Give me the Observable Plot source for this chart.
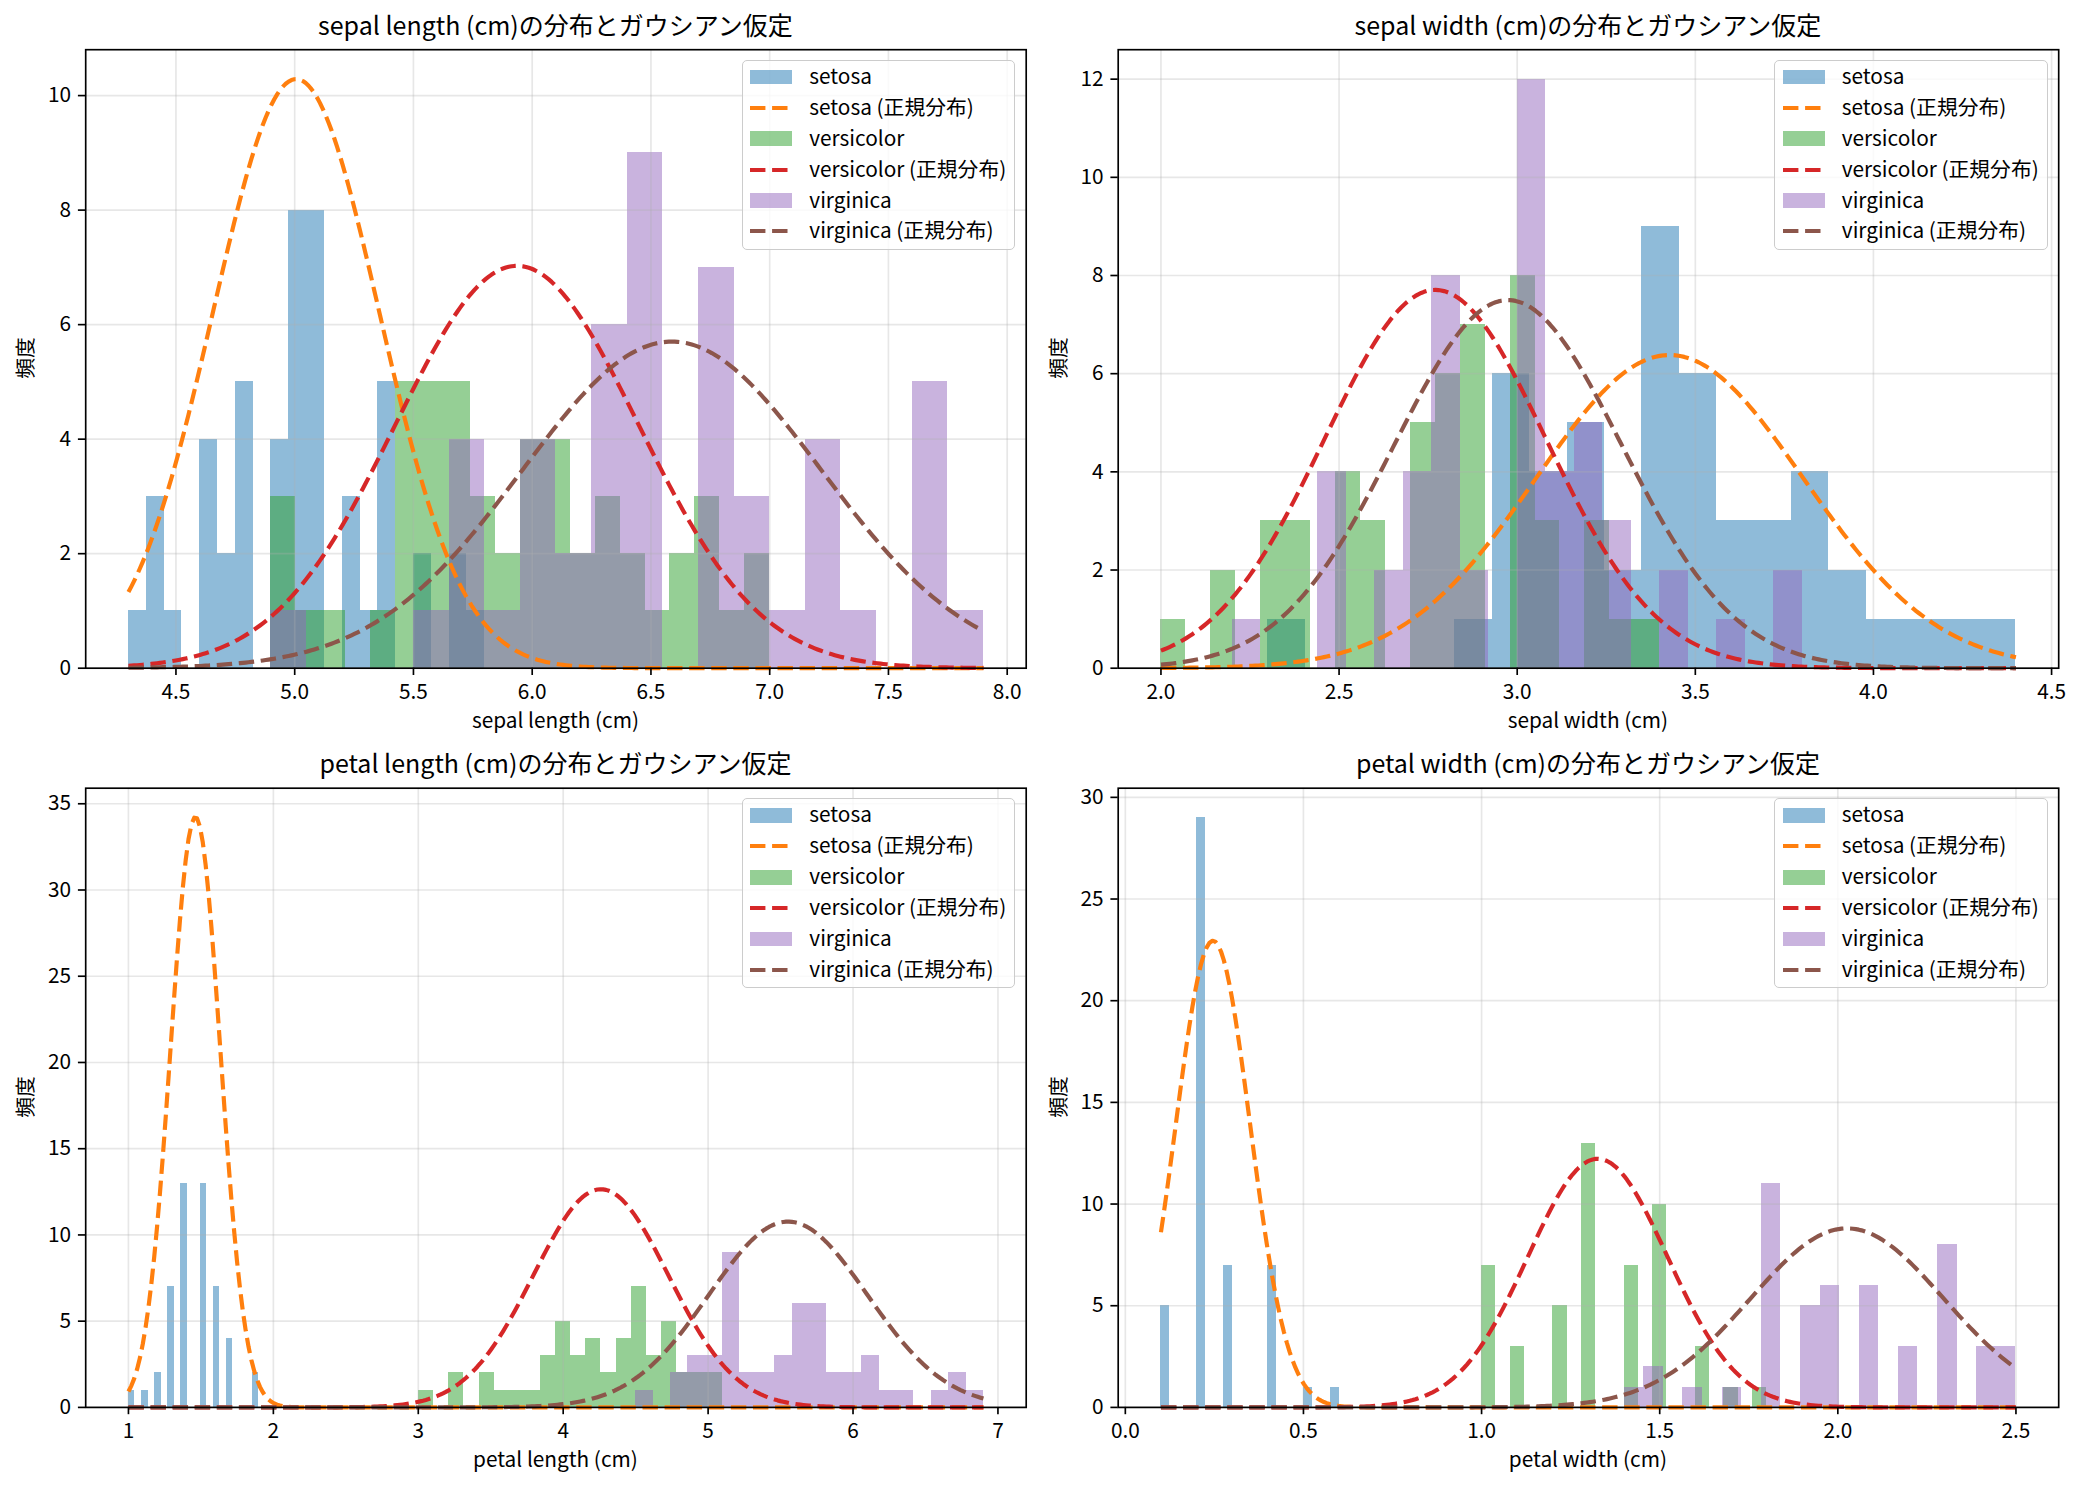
<!DOCTYPE html>
<html>
<head>
<meta charset="utf-8">
<script src="https://cdn.jsdelivr.net/npm/d3@7"></script>
<script src="https://cdn.jsdelivr.net/npm/@observablehq/plot@0.6"></script>
<style>
html, body { margin: 0; padding: 0; background: #fff; }
#fig { position: relative; width: 2083px; height: 1485px; background: #fff; overflow: hidden;
  font-family: "Noto Sans CJK JP", "Noto Sans", sans-serif; color: #000; }
.abs { position: absolute; white-space: nowrap; }
</style>
</head>
<body>
<div id="fig"></div>
<script>
// ---------------- data ----------------
const species = ["setosa", "versicolor", "virginica"];
const features = ["sepal length (cm)", "sepal width (cm)", "petal length (cm)", "petal width (cm)"];
const sampleSize = 50;
const binCount = 20;

// overall range of each feature (all species) – x extent of the normal curves
const featureMin = [4.3, 2.0, 1.0, 0.1];
const featureMax = [7.9, 4.4, 6.9, 2.5];

// histogram range of each species (20 bins each)
const setosaMin = [4.3, 2.3, 1.0, 0.1];
const setosaMax = [5.8, 4.4, 1.9, 0.6];
const versicolorMin = [4.9, 2.0, 3.0, 1.0];
const versicolorMax = [7.0, 3.4, 5.1, 1.8];
const virginicaMin = [4.9, 2.2, 4.5, 1.4];
const virginicaMax = [7.9, 3.8, 6.9, 2.5];

// bin counts
const setosaSepalLength     = [1,3,1,0,4,2,5,0,4,8,8,0,3,1,5,0,2,0,2,1];
const versicolorSepalLength = [3,1,1,0,1,5,5,5,3,2,4,4,2,3,2,1,2,3,1,2];
const virginicaSepalLength  = [1,0,0,0,1,4,1,4,2,6,9,0,7,3,1,4,1,0,5,1];

const setosaSepalWidth      = [1,0,0,0,0,1,6,4,5,2,9,6,3,3,4,2,1,1,1,1];
const versicolorSepalWidth  = [1,0,2,0,3,3,0,4,3,0,5,6,7,0,8,3,0,3,1,1];
const virginicaSepalWidth   = [1,0,0,4,0,2,4,8,2,0,12,4,5,3,0,2,0,1,0,2];

const setosaPetalLength     = [1,0,1,0,2,0,7,0,13,0,0,13,0,7,0,4,0,0,0,2];
const versicolorPetalLength = [1,0,2,0,2,1,1,1,3,5,3,4,2,4,7,3,5,2,2,2];
const virginicaPetalLength  = [1,0,2,3,3,9,2,2,3,6,6,2,2,3,1,1,0,1,2,1];

const setosaPetalWidth      = [5,0,0,0,29,0,0,7,0,0,0,0,7,0,0,0,1,0,0,1];
const versicolorPetalWidth  = [7,0,3,0,0,5,0,13,0,0,7,0,10,0,0,3,0,1,0,1];
const virginicaPetalWidth   = [1,2,0,1,0,1,0,11,0,5,6,0,6,0,3,0,8,0,3,3];

// fitted normal parameters (mean, std)
const setosaMean     = [5.006, 3.428, 1.462, 0.246];
const setosaStd      = [0.3490, 0.3752, 0.1719, 0.1043];
const versicolorMean = [5.936, 2.770, 4.260, 1.326];
const versicolorStd  = [0.5110, 0.3106, 0.4652, 0.1958];
const virginicaMean  = [6.588, 2.974, 5.552, 2.026];
const virginicaStd   = [0.6295, 0.3192, 0.5463, 0.2719];

// tick labels
const tickSepalLength = [4.5, 5.0, 5.5, 6.0, 6.5, 7.0, 7.5, 8.0];
const tickSepalWidth  = [2.0, 2.5, 3.0, 3.5, 4.0, 4.5];
const tickPetalLength = [1, 2, 3, 4, 5, 6, 7];
const tickPetalWidth  = [0.0, 0.5, 1.0, 1.5, 2.0, 2.5];
const countTicksSepalLength = [0, 2, 4, 6, 8, 10];
const countTicksSepalWidth  = [0, 2, 4, 6, 8, 10, 12];
const countTicksPetalLength = [0, 5, 10, 15, 20, 25, 30, 35];
const countTicksPetalWidth  = [0, 5, 10, 15, 20, 25, 30];

// ---------------- assembled tables ----------------
const counts = [
  [setosaSepalLength, versicolorSepalLength, virginicaSepalLength],
  [setosaSepalWidth, versicolorSepalWidth, virginicaSepalWidth],
  [setosaPetalLength, versicolorPetalLength, virginicaPetalLength],
  [setosaPetalWidth, versicolorPetalWidth, virginicaPetalWidth]
];
const rangeMin = [setosaMin, versicolorMin, virginicaMin];
const rangeMax = [setosaMax, versicolorMax, virginicaMax];
const means = [setosaMean, versicolorMean, virginicaMean];
const stds = [setosaStd, versicolorStd, virginicaStd];
const xTicks = [tickSepalLength, tickSepalWidth, tickPetalLength, tickPetalWidth];
const yTicks = [countTicksSepalLength, countTicksSepalWidth, countTicksPetalLength, countTicksPetalWidth];
const xFormats = [".1f", ".1f", "d", ".1f"];

// ---------------- styles ----------------
const barColors = ["#1f77b4", "#2ca02c", "#9467bd"];
const lineColors = ["#ff7f0e", "#d62728", "#8c564b"];
const FONT = '"Noto Sans CJK JP", "Noto Sans", sans-serif';
const LW = 1.67;          // 0.8pt at 150 dpi
const CURVE_W = 4.17;     // 2pt
const DASH = "15.42,6.67";
const layout = [
  {left: 0,    top: 0,   width: 1060, height: 740, ml: 85.2, mr: 34.3, mt: 49.2, mb: 72.3},
  {left: 1040, top: 0,   width: 1043, height: 740, ml: 77.7, mr: 24.8, mt: 49.2, mb: 72.3},
  {left: 0,    top: 740, width: 1060, height: 745, ml: 85.2, mr: 34.3, mt: 47.7, mb: 78.1},
  {left: 1040, top: 740, width: 1043, height: 745, ml: 77.7, mr: 24.8, mt: 47.7, mb: 78.1}
];

const fig = document.getElementById("fig");

function addText(str, cx, cy, size, rot) {
  const d = document.createElement("div");
  d.className = "abs";
  d.textContent = str;
  d.style.left = cx + "px";
  d.style.top = cy + "px";
  d.style.fontSize = size + "px";
  d.style.lineHeight = "1";
  d.style.transform = rot ? `translate(-50%, -50%) rotate(${rot}deg)` : "translate(-50%, -50%) translateY(-0.09em)";
  fig.appendChild(d);
}

function addLegend(axRight, axTop) {
  const W = 273.6, H = 190, B = 1.67;
  const box = document.createElement("div");
  box.style.cssText = `position:absolute;left:${axRight - 10.4 - W}px;top:${axTop + 10.4}px;width:${W}px;height:${H}px;` +
    `box-sizing:border-box;border:${B}px solid #cccccc;border-radius:5px;background:rgba(255,255,255,0.8);`;
  const entries = [];
  species.forEach((s, i) => {
    entries.push({label: s, type: "patch", color: barColors[i]});
    entries.push({label: s + " (正規分布)", type: "line", color: lineColors[i]});
  });
  entries.forEach((e, i) => {
    const cy = 18 + i * 30.9 - B;
    if (e.type === "patch") {
      const p = document.createElement("div");
      p.style.cssText = `position:absolute;left:${9.4 - B}px;top:${cy - 7.3}px;width:41.6px;height:14.6px;background:${e.color};opacity:0.5;`;
      box.appendChild(p);
    } else {
      const ns = "http://www.w3.org/2000/svg";
      const svg = document.createElementNS(ns, "svg");
      svg.setAttribute("width", "42");
      svg.setAttribute("height", "8");
      svg.style.cssText = `position:absolute;left:${9.4 - B}px;top:${cy - 4}px;overflow:visible;`;
      const ln = document.createElementNS(ns, "line");
      ln.setAttribute("x1", 0); ln.setAttribute("x2", 41.6);
      ln.setAttribute("y1", 4); ln.setAttribute("y2", 4);
      ln.setAttribute("stroke", e.color);
      ln.setAttribute("stroke-width", CURVE_W);
      ln.setAttribute("stroke-dasharray", DASH);
      svg.appendChild(ln);
      box.appendChild(svg);
    }
    const t = document.createElement("div");
    t.className = "abs";
    t.textContent = e.label;
    t.style.cssText += `left:${68.3 - B}px;top:${cy}px;font-size:20.8px;line-height:1;transform:translateY(-50%) translateY(-0.06em);`;
    box.appendChild(t);
  });
  fig.appendChild(box);
}

features.forEach((feat, f) => {
  const L = layout[f];
  const fmin = featureMin[f], fmax = featureMax[f];
  const span = fmax - fmin;
  const scaleFactor = sampleSize * span / binCount;

  // bars
  const bars = species.map((s, si) => {
    const lo = rangeMin[si][f], hi = rangeMax[si][f];
    const w = (hi - lo) / binCount;
    return counts[f][si].map((c, i) => ({x1: lo + i * w, x2: lo + (i + 1) * w, c})).filter(d => d.c > 0);
  });
  // normal curves
  const curves = species.map((s, si) => {
    const mu = means[si][f], sd = stds[si][f];
    const pts = [];
    const n = 300;
    for (let k = 0; k < n; k++) {
      const x = fmin + span * k / (n - 1);
      const y = scaleFactor * Math.exp(-0.5 * ((x - mu) / sd) ** 2) / (sd * Math.sqrt(2 * Math.PI));
      pts.push({x, y});
    }
    return pts;
  });
  const maxBar = d3.max(counts[f].flat());
  const maxCurve = d3.max(curves.flat(), d => d.y);
  const yMax = 1.05 * Math.max(maxBar, maxCurve);

  const marks = [];
  bars.forEach((b, si) => {
    marks.push(Plot.rect(b, {x1: "x1", x2: "x2", y1: 0, y2: "c", fill: barColors[si], fillOpacity: 0.5,
      inset: 0, shapeRendering: "crispEdges"}));
  });
  marks.push(Plot.gridX(xTicks[f], {stroke: "#b0b0b0", strokeOpacity: 0.3, strokeWidth: LW}));
  marks.push(Plot.gridY(yTicks[f], {stroke: "#b0b0b0", strokeOpacity: 0.3, strokeWidth: LW}));
  curves.forEach((c, si) => {
    marks.push(Plot.line(c, {x: "x", y: "y", stroke: lineColors[si], strokeWidth: CURVE_W,
      strokeDasharray: DASH, strokeLinecap: "butt", strokeLinejoin: "round"}));
  });
  marks.push(Plot.frame({stroke: "#000", strokeWidth: LW}));
  marks.push(Plot.axisX(xTicks[f], {tickSize: 7.3, tickPadding: 9, tickFormat: d3.format(xFormats[f]),
    label: null, strokeWidth: LW}));
  marks.push(Plot.axisY(yTicks[f], {tickSize: 7.3, tickPadding: 7.3, tickFormat: d3.format("d"),
    label: null, strokeWidth: LW}));

  const svg = Plot.plot({
    width: L.width, height: L.height,
    marginLeft: L.ml, marginRight: L.mr, marginTop: L.mt, marginBottom: L.mb,
    style: {fontFamily: FONT, fontSize: "20.8px", color: "#000", background: "transparent", maxWidth: "none", overflow: "visible"},
    x: {domain: [fmin - 0.05 * span, fmax + 0.05 * span]},
    y: {domain: [0, yMax]},
    marks
  });
  svg.style.position = "absolute";
  svg.style.left = L.left + "px";
  svg.style.top = L.top + "px";
  fig.appendChild(svg);

  const axL = L.left + L.ml, axR = L.left + L.width - L.mr;
  const axT = L.top + L.mt, axB = L.top + L.height - L.mb;
  const cx = (axL + axR) / 2;
  addText(feat + "の分布とガウシアン仮定", cx, axT - 22.5, 25);
  addText(feat, cx, axB + 53.5, 20.8);
  addText("頻度", axL - 61, (axT + axB) / 2, 20.8, -90);
  addLegend(axR, axT);
});
</script>
</body>
</html>
